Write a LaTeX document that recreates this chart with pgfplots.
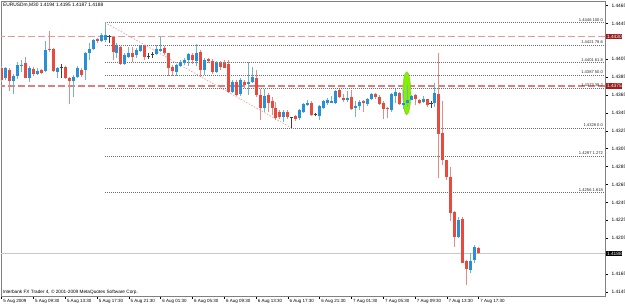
\documentclass[border=0pt]{standalone}
\usepackage{fontspec}
\setmainfont{Liberation Sans}
\usepackage{pgfplots}
\usepackage{pgfplotstable}
\pgfplotsset{compat=1.18}

\definecolor{bullbody}{HTML}{2790D8}
\definecolor{bearbody}{HTML}{E84A3E}
\definecolor{bullwick}{HTML}{72B4C4}
\definecolor{bearwick}{HTML}{DE8C8C}
\definecolor{dojicol}{HTML}{404040}
\definecolor{fibgray}{HTML}{6E6E6E}
\definecolor{lvlred}{HTML}{DC8080}
\definecolor{diagred}{HTML}{F0A0A0}
\definecolor{pricegray}{HTML}{C8C8C8}
\definecolor{boxred}{HTML}{9E1C1C}
\definecolor{axisgray}{HTML}{808080}
\definecolor{ellgreen}{HTML}{84F000}

\pgfplotstableread{
i o h l c
0 1.4395 1.4398 1.4380 1.4382
1 1.4384 1.4396 1.4382 1.4395
2 1.4393 1.4395 1.4370 1.4381
3 1.4381 1.4389 1.4366 1.4386
4 1.4386 1.4402 1.4383 1.4399
5 1.4398 1.4404 1.4391 1.4399
6 1.4401 1.4407 1.4384 1.4384
7 1.4384 1.4397 1.4380 1.4395
8 1.4394 1.4396 1.4386 1.4389
9 1.4389 1.4395 1.4387 1.4392
10 1.4393 1.4394 1.4389 1.4390
11 1.4392 1.4425 1.4391 1.4415
12 1.4417 1.4437 1.4413 1.4415
13 1.4417 1.4418 1.4391 1.4392
14 1.4391 1.4396 1.4384 1.4395
15 1.4396 1.4400 1.4384 1.4396
16 1.4396 1.4397 1.4383 1.4384
17 1.4384 1.4385 1.4355 1.4381
18 1.4381 1.4387 1.4363 1.4385
19 1.4385 1.4397 1.4384 1.4395
20 1.4393 1.4395 1.4385 1.4387
21 1.4393 1.4413 1.4382 1.4412
22 1.4412 1.4423 1.4404 1.4417
23 1.4416 1.4428 1.4415 1.4427
24 1.4428 1.4429 1.4423 1.4425
25 1.4425 1.4434 1.4424 1.4432
26 1.4426 1.4446 1.4424 1.4432
27 1.4430 1.4432 1.4423 1.4430
28 1.4430 1.4431 1.4404 1.4413
29 1.4412 1.4423 1.4406 1.4421
30 1.4419 1.4420 1.4399 1.4400
31 1.4400 1.4412 1.4399 1.4410
32 1.4408 1.4419 1.4406 1.4412
33 1.4412 1.4419 1.4402 1.4408
34 1.4410 1.4418 1.4406 1.4415
35 1.4414 1.4421 1.4413 1.4420
36 1.4420 1.4421 1.4404 1.4408
37 1.4408 1.4412 1.4405 1.4408
38 1.4410 1.4413 1.4406 1.4410
39 1.4411 1.4421 1.4410 1.4416
40 1.4414 1.4430 1.4413 1.4417
41 1.4418 1.4420 1.4410 1.4412
42 1.4412 1.4412 1.4386 1.4395
43 1.4396 1.4398 1.4386 1.4392
44 1.4391 1.4400 1.4386 1.4399
45 1.4397 1.4404 1.4396 1.4402
46 1.4401 1.4406 1.4399 1.4404
47 1.4404 1.4412 1.4398 1.4411
48 1.4410 1.4412 1.4400 1.4404
49 1.4403 1.4422 1.4397 1.4412
50 1.4413 1.4415 1.4385 1.4393
51 1.4393 1.4406 1.4387 1.4404
52 1.4405 1.4406 1.4401 1.4403
53 1.4403 1.4405 1.4389 1.4391
54 1.4391 1.4403 1.4390 1.4401
55 1.4401 1.4403 1.4393 1.4396
56 1.4401 1.4404 1.4395 1.4395
57 1.4400 1.4404 1.4367 1.4368
58 1.4368 1.4382 1.4367 1.4380
59 1.4380 1.4382 1.4364 1.4365
60 1.4366 1.4384 1.4364 1.4382
61 1.4380 1.4382 1.4373 1.4376
62 1.4377 1.4402 1.4365 1.4380
63 1.4380 1.4396 1.4378 1.4385
64 1.4384 1.4393 1.4363 1.4365
65 1.4365 1.4372 1.4337 1.4350
66 1.4350 1.4372 1.4346 1.4364
67 1.4365 1.4367 1.4346 1.4356
68 1.4358 1.4363 1.4343 1.4350
69 1.4350 1.4357 1.4337 1.4339
70 1.4346 1.4348 1.4338 1.4340
71 1.4340 1.4348 1.4335 1.4346
72 1.4346 1.4348 1.4338 1.4340
73 1.4340 1.4341 1.4328 1.4340
74 1.4342 1.4343 1.4336 1.4338
75 1.4339 1.4349 1.4337 1.4348
76 1.4346 1.4356 1.4345 1.4355
77 1.4355 1.4359 1.4353 1.4356
78 1.4356 1.4358 1.4342 1.4343
79 1.4343 1.4345 1.4341 1.4343
80 1.4342 1.4354 1.4337 1.4353
81 1.4350 1.4359 1.4349 1.4358
82 1.4356 1.4362 1.4354 1.4359
83 1.4357 1.4364 1.4356 1.4358
84 1.4356 1.4371 1.4355 1.4370
85 1.4371 1.4372 1.4362 1.4363
86 1.4362 1.4366 1.4357 1.4360
87 1.4360 1.4369 1.4357 1.4362
88 1.4363 1.4371 1.4348 1.4350
89 1.4351 1.4358 1.4341 1.4353
90 1.4353 1.4359 1.4348 1.4357
91 1.4358 1.4359 1.4346 1.4356
92 1.4355 1.4362 1.4353 1.4360
93 1.4360 1.4367 1.4359 1.4366
94 1.4366 1.4367 1.4361 1.4363
95 1.4363 1.4365 1.4354 1.4355
96 1.4356 1.4358 1.4338 1.4350
97 1.4351 1.4352 1.4339 1.4349
98 1.4348 1.4367 1.4346 1.4366
99 1.4364 1.4372 1.4356 1.4368
100 1.4367 1.4368 1.4354 1.4355
101 1.4354 1.4371 1.4350 1.4356
102 1.4356 1.4376 1.4352 1.4360
103 1.4360 1.4365 1.4359 1.4364
104 1.4365 1.4366 1.4354 1.4360
105 1.4360 1.4361 1.4355 1.4356
106 1.4357 1.4364 1.4356 1.4361
107 1.4360 1.4361 1.4352 1.4354
108 1.4356 1.4358 1.4350 1.4356
109 1.4356 1.4378 1.4352 1.4367
110 1.4366 1.4412 1.4272 1.4322
111 1.4322 1.4358 1.4287 1.4292
112 1.4292 1.4292 1.4270 1.4273
113 1.4274 1.4285 1.4224 1.4233
114 1.4234 1.4235 1.4195 1.4207
115 1.4206 1.4229 1.4205 1.4226
116 1.4227 1.4229 1.4177 1.4178
117 1.4180 1.4181 1.4153 1.4171
118 1.4170 1.4188 1.4166 1.4180
119 1.4181 1.4198 1.4177 1.4195
120 1.4194 1.4195 1.4187 1.4188
}\candles

\pgfplotsset{
  candle/.style n args={3}{draw=none, mark=none, forget plot,
    restrict expr to domain={\thisrow{c}-\thisrow{o}}{#1},
    error bars/.cd, y dir=both, y explicit, error mark=none,
    error bar style={solid, line width=#2, draw=#3}},
}

\begin{document}
\begin{tikzpicture}[x=1pt,y=1pt]
\useasboundingbox (0,0) rectangle (625,305);
\begin{axis}[
  at={(1pt,9pt)}, anchor=south west,
  scale only axis, width=604pt, height=295pt,
  xmin=-0.176, xmax=151.77,
  ymin=1.41405, ymax=1.44700,
  axis line style={draw=axisgray, line width=0.7pt},
  clip mode=individual,
  /pgf/number format/assume math mode=true,
  scaled y ticks=false,
  ytick={1.4145,1.4165,1.4205,1.4225,1.4245,1.4265,1.4285,1.4305,1.4325,1.4345,1.4365,1.4385,1.4405,1.4445,1.4465},
  ytick pos=right, yticklabel pos=right,
  yticklabel style={/pgf/number format/fixed, /pgf/number format/fixed zerofill, /pgf/number format/precision=4},
  xtick={0,8,...,120},
  xticklabels={5 Aug 2009,5 Aug 09:30,5 Aug 13:30,5 Aug 17:30,5 Aug 21:30,6 Aug 01:30,6 Aug 05:30,6 Aug 09:30,6 Aug 13:30,6 Aug 17:30,6 Aug 21:30,7 Aug 01:30,7 Aug 05:30,7 Aug 09:30,7 Aug 13:30,7 Aug 17:30},
  xtick pos=bottom,
  tick align=outside,
  major tick length=3pt,
  tick style={black, line width=0.5pt},
  ticklabel style={font=\fontsize{4.8}{5}\selectfont},
  xticklabel style={anchor=west, inner sep=0pt, xshift=1.5pt, yshift=-2pt, font=\fontsize{4.5}{5}\selectfont},
]
% levels
\addplot[lvlred!80, line width=1.2pt, dash pattern=on 7pt off 3pt] coordinates {(-1,1.4430) (152,1.4430)};
\addplot[lvlred, line width=1.2pt, dash pattern=on 7pt off 3pt] coordinates {(-1,1.4375) (152,1.4375)};
\addplot[pricegray, line width=0.6pt] coordinates {(-1,1.4188) (152,1.4188)};
\pgfplotsinvokeforeach{1.4446,1.4421,1.4401,1.4387,1.4373,1.4328,1.4297,1.4256}{
  \addplot[fibgray, line width=0.6pt, dash pattern=on 1pt off 1pt] coordinates {(26,#1) (152,#1)};
}
\addplot[diagred, line width=0.7pt, dash pattern=on 1.5pt off 1.5pt] coordinates {(26,1.4446) (73,1.4328)};
% highlight ellipse
\fill[ellgreen, draw=ellgreen!80!black, line width=0.3pt] (axis cs:101.9,1.4367) ellipse [x radius=4pt, y radius=21.5pt];
% wicks
\addplot[candle={0.00001:1}{1pt}{bullwick}]
  table[x=i, y expr=(\thisrow{h}+\thisrow{l})/2, y error expr=(\thisrow{h}-\thisrow{l})/2] {\candles};
\addplot[candle={-1:-0.00001}{1pt}{bearwick}]
  table[x=i, y expr=(\thisrow{h}+\thisrow{l})/2, y error expr=(\thisrow{h}-\thisrow{l})/2] {\candles};
\addplot[candle={-0.00001:0.00001}{0.8pt}{dojicol}]
  table[x=i, y expr=(\thisrow{h}+\thisrow{l})/2, y error expr=(\thisrow{h}-\thisrow{l})/2] {\candles};
% bodies
\addplot[candle={0.00001:1}{3pt}{bullbody}]
  table[x=i, y expr=(\thisrow{o}+\thisrow{c})/2, y error expr=(\thisrow{c}-\thisrow{o})/2] {\candles};
\addplot[candle={-1:-0.00001}{3pt}{bearbody}]
  table[x=i, y expr=(\thisrow{o}+\thisrow{c})/2, y error expr=(\thisrow{o}-\thisrow{c})/2] {\candles};
\addplot[only marks, mark=-, mark size=1.6pt, mark options={line width=0.8pt, draw=dojicol},
  restrict expr to domain={\thisrow{c}-\thisrow{o}}{-0.00001:0.00001}]
  table[x=i, y=c] {\candles};
% fib labels
\begin{scope}[every node/.style={anchor=south east, inner sep=0pt, yshift=1.2pt, font=\fontsize{4.1}{4.5}\selectfont, text=black!85}]
\node at (axis cs:151.3,1.4446) {1.4446 100.0};
\node at (axis cs:151.3,1.4421) {1.4421 78.6};
\node at (axis cs:151.3,1.4401) {1.4401 61.8};
\node at (axis cs:151.3,1.4387) {1.4387 50.0};
\node at (axis cs:151.3,1.4373) {1.4373 38.2};
\node at (axis cs:151.3,1.4328) {1.4328 0.0};
\node at (axis cs:151.3,1.4297) {1.4297 1.272};
\node at (axis cs:151.3,1.4256) {1.4256 1.618};
\end{scope}
% price boxes
\begin{scope}[every node/.style={anchor=west, inner xsep=0.8pt, inner ysep=0.9pt, xshift=1pt, text=white, font=\fontsize{4.8}{5}\selectfont}]
\node[fill=boxred] at (axis cs:151.77,1.4430) {1.4430};
\node[fill=boxred] at (axis cs:151.77,1.4375) {1.4375};
\node[fill=black] at (axis cs:151.77,1.4188) {1.4188};
\end{scope}
\end{axis}
\node[anchor=west, inner sep=0pt, font=\fontsize{4.85}{5}\selectfont] at (3,300) {EURUSDm,M30 1.4194 1.4195 1.4187 1.4188};
\node[anchor=west, inner sep=0pt, font=\fontsize{4.7}{5}\selectfont] at (2.5,13) {Interbank FX Trader 4, © 2001-2009 MetaQuotes Software Corp.};
\end{tikzpicture}
\end{document}
